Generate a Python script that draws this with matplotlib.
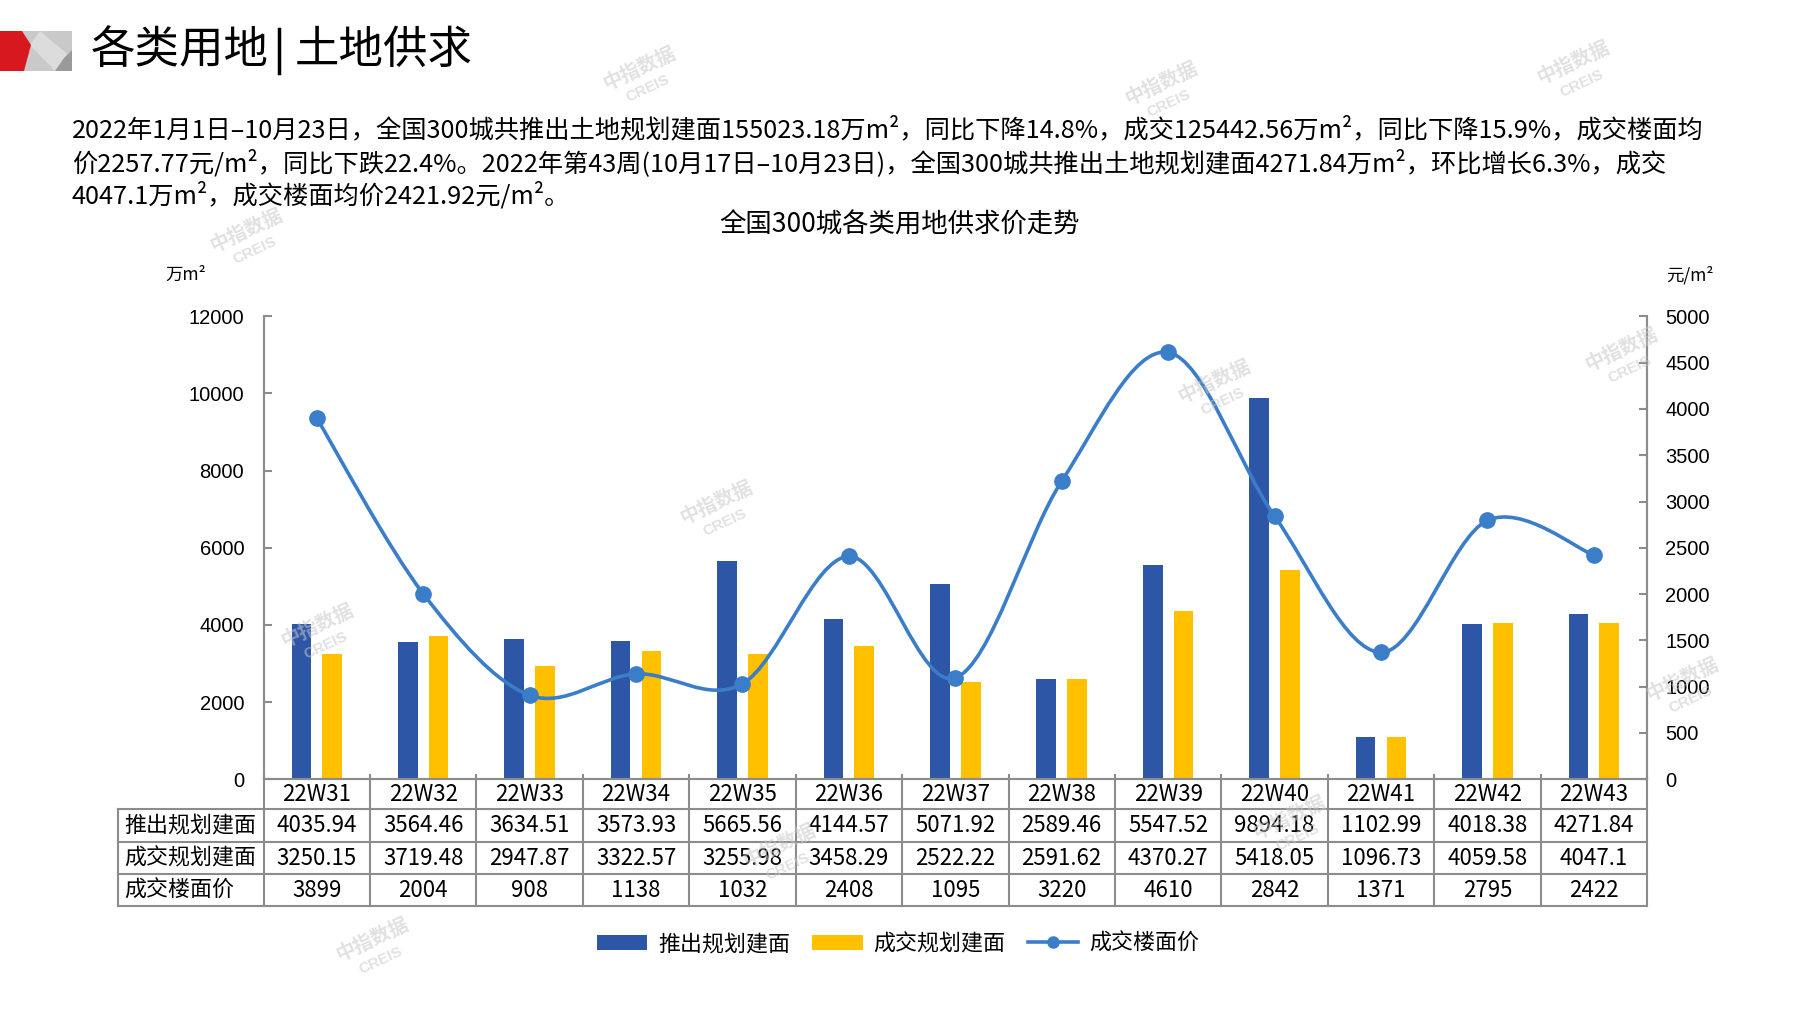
import matplotlib
matplotlib.use('Agg')
import matplotlib.pyplot as plt
import matplotlib.transforms as mtransforms
from matplotlib.path import Path
from matplotlib.patches import PathPatch, Polygon, Patch
from matplotlib.lines import Line2D
import numpy as np

# ---------------- data ----------------
weeks = ['22W31', '22W32', '22W33', '22W34', '22W35', '22W36', '22W37',
         '22W38', '22W39', '22W40', '22W41', '22W42', '22W43']
supply = [4035.94, 3564.46, 3634.51, 3573.93, 5665.56, 4144.57, 5071.92,
          2589.46, 5547.52, 9894.18, 1102.99, 4018.38, 4271.84]
deal = [3250.15, 3719.48, 2947.87, 3322.57, 3255.98, 3458.29, 2522.22,
        2591.62, 4370.27, 5418.05, 1096.73, 4059.58, 4047.1]
price = [3899, 2004, 908, 1138, 1032, 2408, 1095, 3220, 4610, 2842, 1371, 2795, 2422]
supply_txt = ['4035.94', '3564.46', '3634.51', '3573.93', '5665.56', '4144.57', '5071.92',
              '2589.46', '5547.52', '9894.18', '1102.99', '4018.38', '4271.84']
deal_txt = ['3250.15', '3719.48', '2947.87', '3322.57', '3255.98', '3458.29', '2522.22',
            '2591.62', '4370.27', '5418.05', '1096.73', '4059.58', '4047.1']
price_txt = ['3899', '2004', '908', '1138', '1032', '2408', '1095', '3220', '4610',
             '2842', '1371', '2795', '2422']
series_names = ['推出规划建面', '成交规划建面', '成交楼面价']
left_ticks = [0, 2000, 4000, 6000, 8000, 10000, 12000]
right_ticks = [0, 500, 1000, 1500, 2000, 2500, 3000, 3500, 4000, 4500, 5000]

page_title_a = '各类用地'
page_title_b = '土地供求'
chart_title = '全国300城各类用地供求价走势'
left_unit = '万m²'
right_unit = '元/m²'
para_lines = [
    '2022年1月1日–10月23日，全国300城共推出土地规划建面155023.18万m²，同比下降14.8%，成交125442.56万m²，同比下降15.9%，成交楼面均',
    '价2257.77元/m²，同比下跌22.4%。2022年第43周(10月17日–10月23日)，全国300城共推出土地规划建面4271.84万m²，环比增长6.3%，成交',
    '4047.1万m²，成交楼面均价2421.92元/m²。',
]

# ---------------- style ----------------
W, H = 1797, 1010
BLUE = '#2E56A6'
YELLOW = '#FFC000'
LINE = '#3A7DC9'
GRID = '#8C8C8C'
CJK = ['Noto Sans CJK SC', 'DejaVu Sans']
NARROW = ['Liberation Sans Narrow', 'Noto Sans CJK SC', 'DejaVu Sans']
ARIAL = ['Liberation Sans', 'DejaVu Sans']

plt.rcParams['font.family'] = CJK

fig = plt.figure(figsize=(W / 100, H / 100), dpi=100)
fig.patch.set_facecolor('white')

def fx(x):
    return x / W

def fy(y):
    return 1 - y / H

# ---------------- header ----------------
fig.patches.append(Polygon([(fx(18), fy(31)), (fx(72), fy(31)), (fx(72), fy(71)), (fx(18), fy(71))],
                           closed=True, transform=fig.transFigure, facecolor='#C9C9C9', edgecolor='none'))
fig.patches.append(Polygon([(fx(40), fy(31)), (fx(72), fy(58)), (fx(72), fy(71)), (fx(55), fy(71)), (fx(30), fy(45))],
                           closed=True, transform=fig.transFigure, facecolor='#DCDCDC', edgecolor='none'))
fig.patches.append(Polygon([(fx(72), fy(50)), (fx(72), fy(71)), (fx(55), fy(71)), (fx(64), fy(58))],
                           closed=True, transform=fig.transFigure, facecolor='#9A9A9A', edgecolor='none'))
fig.patches.append(Polygon([(fx(0), fy(31)), (fx(22), fy(31)), (fx(31), fy(45)), (fx(24), fy(71)), (fx(0), fy(71))],
                           closed=True, transform=fig.transFigure, facecolor='#D7191F', edgecolor='none'))

fig.text(fx(91), fy(50), page_title_a, fontsize=32, family=CJK, ha='left', va='center', color='black')
fig.lines.append(Line2D([fx(279), fx(279)], [fy(29), fy(73)], transform=fig.transFigure, color='black', lw=2.5))
fig.text(fx(295), fy(50), page_title_b, fontsize=32, family=CJK, ha='left', va='center', color='black')

para_y = [130, 163, 196]
para_texts = []
for ln, yy in zip(para_lines, para_y):
    para_texts.append(fig.text(fx(72), fy(yy), ln, fontsize=16, family=NARROW, ha='left', va='center', color='black'))

fig.text(fx(900), fy(225), chart_title, fontsize=19, family=CJK, ha='center', va='center', color='black')
fig.text(fx(186), fy(275), left_unit, fontsize=12.5, family=CJK, ha='center', va='center', color='black')
fig.text(fx(1690), fy(275), right_unit, fontsize=12.5, family=CJK, ha='center', va='center', color='black')

# ---------------- chart ----------------
ax_left, ax_right, ax_top, ax_bot = 263.6, 1647.0, 316.3, 779.3
ax = fig.add_axes([fx(ax_left), fy(ax_bot), (ax_right - ax_left) / W, (ax_bot - ax_top) / H])
ax.set_facecolor('none')
ax2 = ax.twinx()

n = len(weeks)
x = np.arange(n)
bw = 0.185
off = 0.145
ax.bar(x - off, supply, width=bw, color=BLUE, zorder=2, label=series_names[0])
ax.bar(x + off, deal, width=bw, color=YELLOW, zorder=2, label=series_names[1])

ax.set_xlim(-0.5, n - 0.5)
ax.set_ylim(0, 12000)
ax2.set_ylim(0, 5000)
ax.set_yticks(left_ticks)
ax2.set_yticks(right_ticks)
ax.set_yticklabels([str(t) for t in left_ticks], family=ARIAL, fontsize=14.5)
ax2.set_yticklabels([str(t) for t in right_ticks], family=ARIAL, fontsize=14.5)
ax.set_xticks([])
ax2.set_xticks([])
for a in (ax, ax2):
    a.spines['top'].set_visible(False)
    for s in ('left', 'right', 'bottom'):
        a.spines[s].set_color(GRID)
        a.spines[s].set_linewidth(1.5)
ax.tick_params(axis='y', direction='in', length=6, width=1.5, color=GRID, pad=14)
ax2.tick_params(axis='y', direction='in', length=6, width=1.5, color=GRID, pad=13)

# smoothed line (Bezier through points, Excel style)
py = np.array(price, dtype=float)
pts = np.column_stack([x, py])
verts = [tuple(pts[0])]
codes = [Path.MOVETO]
for i in range(n - 1):
    p0 = pts[i - 1] if i > 0 else pts[i]
    p1 = pts[i]
    p2 = pts[i + 1]
    p3 = pts[i + 2] if i + 2 < n else pts[i + 1]
    c1 = p1 + (p2 - p0) / 6.0
    c2 = p2 - (p3 - p1) / 6.0
    verts += [tuple(c1), tuple(c2), tuple(p2)]
    codes += [Path.CURVE4] * 3
ax2.add_patch(PathPatch(Path(verts, codes), facecolor='none', edgecolor=LINE, lw=2.6, zorder=3))
ax2.plot(x, price, linestyle='none', marker='o', markersize=11, color=LINE, zorder=4)

# ---------------- data table ----------------
tr = mtransforms.blended_transform_factory(ax.transData, ax.transAxes)
row_lines = [0.0, -0.0644, -0.136, -0.2054, -0.2747]
label_x = -1.868
tl = dict(color=GRID, lw=1.5, transform=tr, clip_on=False, zorder=5)
for yv in row_lines[1:]:
    ax.add_line(Line2D([label_x, n - 0.5], [yv, yv], **tl))
ax.add_line(Line2D([label_x, label_x], [row_lines[1], row_lines[-1]], **tl))
for k in range(n + 1):
    ax.add_line(Line2D([k - 0.5, k - 0.5], [0.009, row_lines[-1]], **tl))

rows = [weeks, supply_txt, deal_txt, price_txt]
for r, vals in enumerate(rows):
    yc = (row_lines[r] + row_lines[r + 1]) / 2
    for i, v in enumerate(vals):
        ax.text(i, yc, v, transform=tr, ha='center', va='center', fontsize=16,
                family=NARROW, color='black', clip_on=False)
    if r > 0:
        ax.text(label_x + 0.06, yc, series_names[r - 1], transform=tr, ha='left', va='center',
                fontsize=15.8, family=CJK, color='black', clip_on=False)

# ---------------- legend ----------------
handles = [Patch(facecolor=BLUE, edgecolor='none'),
           Patch(facecolor=YELLOW, edgecolor='none'),
           Line2D([0], [0], color=LINE, lw=2.6, marker='o', markersize=8)]
fig.legend(handles, series_names, loc='center', bbox_to_anchor=(fx(898), fy(944)), ncol=3,
           frameon=False, prop={'family': CJK, 'size': 15.8}, handlelength=2.3,
           handletextpad=0.5, columnspacing=1.0)

# ---------------- watermarks ----------------
wm = [(558, 67), (1013, 80), (1373, 62), (215, 208), (1060, 340), (1415, 312),
      (625, 445), (277, 553), (680, 745), (1125, 720), (1468, 600), (325, 827)]
for (sx, sy) in wm:
    X, Y = sx * W / 1568, sy * H / 881
    fig.text(fx(X), fy(Y - 8), '中指数据', fontsize=14, family=CJK, color='#C8C8C8', alpha=0.55,
             rotation=25, ha='center', va='center', fontweight='bold')
    fig.text(fx(X + 8), fy(Y + 12), 'CREIS', fontsize=11, family=ARIAL, color='#C8C8C8', alpha=0.55,
             rotation=25, ha='center', va='center', fontweight='bold')

# fit paragraph width to reference
fig.canvas.draw()
r = fig.canvas.get_renderer()
w0 = para_texts[0].get_window_extent(r).width
target = 1636.0
fs = 16 * target / w0
for t in para_texts:
    t.set_fontsize(fs)

fig.savefig('out.png', dpi=100, facecolor='white')
